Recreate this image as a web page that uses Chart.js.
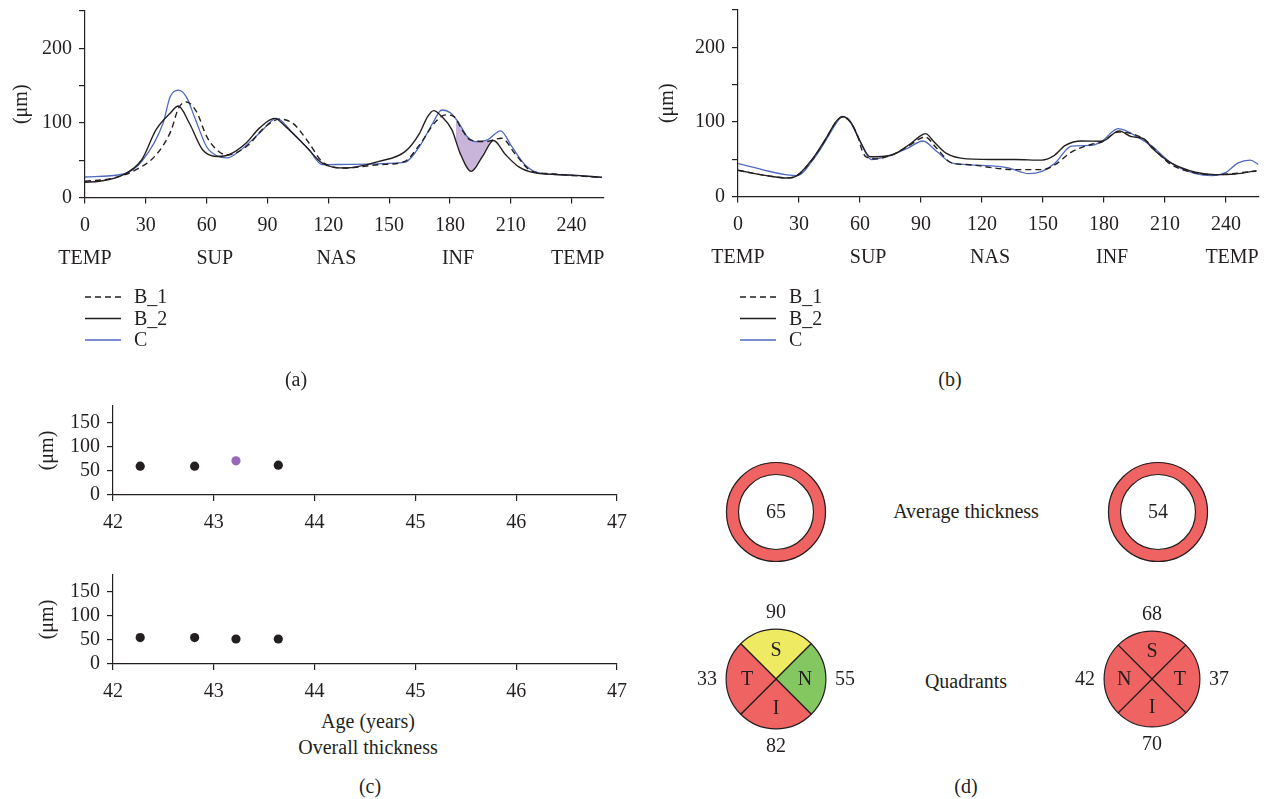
<!DOCTYPE html>
<html>
<head>
<meta charset="utf-8">
<script src="https://cdn.jsdelivr.net/npm/chart.js@4.4.1/dist/chart.umd.min.js"></script>
<style>
  body { margin:0; background:#fff; width:1268px; height:799px; position:relative; overflow:hidden;
         font-family:'Liberation Serif','DejaVu Serif',serif; color:#231f20; }
  canvas { position:absolute; }
  .lbl { position:absolute; font-size:20px; line-height:1; transform:translate(-50%,-50%); white-space:nowrap; }
</style>
</head>
<body>
<canvas id="chartA" width="640" height="360" style="left:0;top:0"></canvas>
<canvas id="chartB" width="628" height="360" style="left:640px;top:0"></canvas>
<canvas id="chartC1" width="660" height="150" style="left:0;top:390px"></canvas>
<canvas id="chartC2" width="660" height="150" style="left:0;top:560px"></canvas>
<canvas id="ring1" width="120" height="120" style="left:716px;top:452px"></canvas>
<canvas id="ring2" width="120" height="120" style="left:1098px;top:452px"></canvas>
<canvas id="quad1" width="200" height="200" style="left:676px;top:579px"></canvas>
<canvas id="quad2" width="200" height="200" style="left:1052px;top:579px"></canvas>

<div class="lbl" style="left:296px;top:379px">(a)</div>
<div class="lbl" style="left:950px;top:379px">(b)</div>
<div class="lbl" style="left:368px;top:721px">Age (years)</div>
<div class="lbl" style="left:368px;top:747px">Overall thickness</div>
<div class="lbl" style="left:370px;top:786px">(c)</div>
<div class="lbl" style="left:966px;top:786px">(d)</div>
<div class="lbl" style="left:966px;top:511px">Average thickness</div>
<div class="lbl" style="left:966px;top:681px">Quadrants</div>

<script>
// sector names under the profile plots
const sectorNames = ['TEMP', 'SUP', 'NAS', 'INF', 'TEMP'];
const sectorPos = [0, 64, 124, 184, 243];

// panel (a) thickness profiles
const aB1x = [0, 14, 25, 35, 42.5, 46, 50, 55, 60, 65, 70, 79.5, 89, 96, 102.5, 110.5, 117, 128.5, 145, 157.5, 165, 173, 178, 182, 186, 190, 197.5, 205.5, 212.5, 220.5, 230, 240, 255];
const aB1y = [21.7, 26, 37, 57, 90, 119, 128, 115, 82, 64, 57, 68, 95, 105, 99.5, 73, 48, 39.5, 44, 48, 70.6, 101.7, 110.7, 108.4, 90.6, 77.3, 75, 79.5, 57.3, 35, 32, 29.5, 27];
const aB2x = [0, 7, 19, 28, 35, 42, 46, 51.5, 58, 65, 71, 79.5, 86, 93.5, 99, 109, 117, 128.5, 145, 158, 165, 169, 172, 176, 181, 185, 190.5, 196, 201.5, 207.5, 214, 222, 240, 255];
const aB2y = [20.4, 21.7, 30.6, 50.6, 90.6, 113, 122.6, 99.5, 64, 55, 57.3, 73, 93, 106, 95, 68.4, 46, 39.5, 48.4, 61.8, 86, 108.4, 116.4, 108.4, 90.6, 59.5, 35, 55, 76.4, 57.3, 41, 33, 30, 27];
const aCx = [0, 19, 28, 38.5, 42, 46, 50, 54, 60, 65, 70, 76, 86, 94.5, 102.5, 110.5, 117, 130, 157.5, 165, 171.5, 176, 180.5, 184.5, 188.5, 192.5, 198.5, 205, 210.5, 217, 224, 240, 255];
const aCy = [27.5, 31.5, 48.4, 99.5, 135, 144, 135, 108, 68, 56, 53, 62, 86, 106, 86, 64, 44, 44.5, 47, 68.4, 99.5, 117.3, 113, 99.5, 81.7, 75, 77.3, 89.3, 68.4, 44, 33, 30, 27];
// shaded gap between C and B_2
const shadeX = [183, 185, 187.5, 190.5, 193.5, 196.5, 200];
const shadeTop = [104, 97, 85, 77.5, 75, 76, 75.5];
const shadeBottom = [78, 59.5, 44, 35, 46, 60, 75.5];

// panel (b) thickness profiles
const bB1x = [0, 14, 24, 29, 37, 43.5, 48.5, 51.5, 55.5, 59, 61, 63, 68, 75, 84, 89.5, 92, 97.5, 105, 112.5, 130, 135, 149.5, 156, 164, 174, 179, 187, 198.5, 213, 225, 234.5, 255];
const bB1y = [35, 28, 25, 28, 51, 78.5, 101, 107, 99, 80, 62, 53, 50.5, 55, 68, 77.5, 80, 65.4, 45, 42.8, 37, 36, 36, 42.8, 59.5, 70, 73, 86.5, 78.9, 42.8, 31.6, 29.3, 34];
const bB2x = [0, 14, 24, 29, 37, 43.5, 48.5, 51.5, 55.5, 60, 65, 75, 84.5, 89.5, 92.3, 96, 102.5, 112.5, 130, 136, 149.5, 155, 161, 169, 179, 187.5, 193.5, 199.5, 203.5, 213, 225, 234.5, 244.5, 255];
const bB2y = [35.2, 28, 24.8, 28, 51.8, 79, 101.4, 107, 99.2, 74.4, 53.2, 55, 70, 81, 84.3, 74.4, 57.7, 50.5, 49.6, 49.6, 48.7, 54, 68.5, 74.4, 74, 88, 80.2, 77.5, 65.4, 45, 32.5, 29.3, 30.2, 34.7];
const bCx = [0, 29, 37, 43.5, 48.5, 51.3, 55, 60, 65.5, 74.5, 83, 91, 97.5, 105, 112.5, 130, 133, 143, 149.5, 156, 164, 174, 179, 187, 197, 203.5, 213, 225, 233, 239.5, 246, 252, 256];
const bCy = [44.2, 28, 49.6, 76.6, 99.2, 107.3, 101.4, 74.4, 49.6, 55, 64, 74.4, 61, 45, 42.8, 39.7, 38.3, 30.7, 33.8, 45, 67.6, 68.5, 74.4, 91, 78.9, 67.6, 45, 30.7, 28, 31.6, 45, 48.7, 42.8];

// panel (c) overall thickness vs age
const ageYears = [42.27, 42.81, 43.22, 43.64];
const thickTop = [60, 60, 71, 62];
const thickBottom = [55, 55, 52, 52];

// panel (d)
const avgThickness = [65, 54];
const quadShare = [1, 1, 1, 1];
const quadNames1 = ['S', 'N', 'I', 'T'];
const quadValues1 = [90, 55, 82, 33];
const quadNames2 = ['S', 'T', 'I', 'N'];
const quadValues2 = [68, 37, 70, 42];

const FONT = "'Liberation Serif', 'DejaVu Serif', serif";
const FS = 20;
const INK = '#231f20';
const BLUE = '#4f68c0';
const RED = '#f06363';
const YELLOW = '#eeeb62';
const GREEN = '#84c760';
const PURPLE = '#c9b5da';
const DOT_PURPLE = '#9568b8';

const pts = (xs, ys) => xs.map((x, i) => ({ x: x, y: ys[i] }));

function xAxis(min, max, step, pad) {
  return {
    type: 'linear', min: min, max: max,
    border: { display: true, color: INK, width: 1.2 },
    grid: { display: true, drawOnChartArea: false, drawTicks: true, tickLength: 6, color: INK, lineWidth: 1.2 },
    ticks: { stepSize: step, includeBounds: false, autoSkip: false, maxRotation: 0, padding: pad,
             color: INK, font: { family: FONT, size: FS } },
    afterFit: s => { s.height = 40; }
  };
}

function yAxis(max, step, every, width, titlePad) {
  return {
    type: 'linear', min: 0, max: max,
    border: { display: true, color: INK, width: 1.2 },
    grid: { display: true, drawOnChartArea: false, drawTicks: true, tickLength: 6, color: INK, lineWidth: 1.2 },
    ticks: { stepSize: step, includeBounds: false, padding: 7, color: INK, font: { family: FONT, size: FS },
             callback: v => (v % every === 0 ? v : '') },
    title: { display: true, text: '(μm)', color: INK, font: { family: FONT, size: FS }, padding: { top: titlePad, bottom: 0 } },
    afterFit: s => { s.width = width; s.paddingTop = 0; s.paddingBottom = 0; }
  };
}

function legendPlugin(x, y, dy) {
  return {
    id: 'legendList',
    afterDraw(chart) {
      const ctx = chart.ctx;
      chart.data.datasets.filter(d => !d.helper).forEach((d, i) => {
        const yy = y + i * dy;
        ctx.save();
        ctx.strokeStyle = d.borderColor;
        ctx.lineWidth = d.borderWidth;
        ctx.setLineDash(d.borderDash || []);
        ctx.beginPath(); ctx.moveTo(x, yy); ctx.lineTo(x + 36, yy); ctx.stroke();
        ctx.setLineDash([]);
        ctx.fillStyle = INK;
        ctx.font = FS + 'px ' + FONT;
        ctx.textBaseline = 'middle';
        ctx.fillText(d.label, x + 49, yy + 1);
        ctx.restore();
      });
    }
  };
}

function sectorPlugin(offsetY) {
  return {
    id: 'sectors',
    afterDraw(chart) {
      const ctx = chart.ctx, xs = chart.scales.x;
      ctx.save();
      ctx.font = FS + 'px ' + FONT;
      ctx.fillStyle = INK;
      ctx.textAlign = 'center';
      ctx.textBaseline = 'middle';
      sectorNames.forEach((s, i) => ctx.fillText(s, xs.getPixelForValue(sectorPos[i]), chart.chartArea.bottom + offsetY));
      ctx.restore();
    }
  };
}

function profileChart(id, set, pad, yWidth, titlePad, legendX, shade) {
  const datasets = [
    { label: 'B_1', data: pts(set[0], set[1]), borderColor: INK, borderWidth: 1.4, borderDash: [6, 4] },
    { label: 'B_2', data: pts(set[2], set[3]), borderColor: INK, borderWidth: 1.4 },
    { label: 'C', data: pts(set[4], set[5]), borderColor: BLUE, borderWidth: 1.3 }
  ];
  if (shade) {
    datasets.push({ label: '_top', helper: true, data: pts(shadeX, shadeTop), borderWidth: 0, borderColor: 'transparent',
                    backgroundColor: PURPLE, fill: '+1' });
    datasets.push({ label: '_bottom', helper: true, data: pts(shadeX, shadeBottom), borderWidth: 0, borderColor: 'transparent', fill: false });
  }
  return new Chart(document.getElementById(id), {
    type: 'line',
    data: { datasets: datasets },
    options: {
      responsive: false, animation: false,
      layout: { padding: pad },
      elements: { point: { radius: 0 }, line: { cubicInterpolationMode: 'monotone' } },
      plugins: { legend: { display: false }, tooltip: { enabled: false } },
      scales: { x: xAxis(0, 256, 30, 10), y: yAxis(250, 50, 100, yWidth, titlePad) }
    },
    plugins: [sectorPlugin(61), legendPlugin(legendX, 297, 21.5)]
  });
}

profileChart('chartA', [aB1x, aB1y, aB2x, aB2y, aCx, aCy], { left: 0, top: 11, right: 36, bottom: 122.5 }, 85, 10, 85, true);
profileChart('chartB', [bB1x, bB1y, bB2x, bB2y, bCx, bCy], { left: 0, top: 10, right: 9.5, bottom: 123.5 }, 98, 16, 100, false);

function ageChart(id, ys, colors, padTop) {
  return new Chart(document.getElementById(id), {
    type: 'scatter',
    data: { datasets: [{ data: pts(ageYears, ys), pointBackgroundColor: colors, pointBorderWidth: 0, pointRadius: 4.6 }] },
    options: {
      responsive: false, animation: false,
      layout: { padding: { left: 0, top: padTop, right: 43, bottom: 150 - padTop - 89 - 40 } },
      plugins: { legend: { display: false }, tooltip: { enabled: false } },
      scales: { x: xAxis(42, 47, 1, 10), y: yAxis(185, 25, 50, 113, 36) }
    }
  });
}
ageChart('chartC1', thickTop, [INK, INK, DOT_PURPLE, INK], 16);
ageChart('chartC2', thickBottom, [INK, INK, INK, INK], 15);

function ringChart(id, value) {
  return new Chart(document.getElementById(id), {
    type: 'doughnut',
    data: { datasets: [{ data: [1], backgroundColor: RED, borderWidth: 0 }] },
    options: {
      responsive: false, animation: false, cutout: '75%',
      layout: { padding: 10 },
      plugins: { legend: { display: false }, tooltip: { enabled: false } }
    },
    plugins: [{
      id: 'ringText',
      afterDatasetsDraw(chart) {
        const arc = chart.getDatasetMeta(0).data[0];
        const ctx = chart.ctx;
        ctx.save();
        ctx.strokeStyle = INK;
        ctx.lineWidth = 1.2;
        [arc.outerRadius - 0.5, arc.innerRadius].forEach(r => {
          ctx.beginPath(); ctx.arc(arc.x, arc.y, r, 0, Math.PI * 2); ctx.stroke();
        });
        ctx.fillStyle = INK;
        ctx.font = FS + 'px ' + FONT;
        ctx.textAlign = 'center';
        ctx.textBaseline = 'middle';
        ctx.fillText(String(value), arc.x, arc.y + 1);
        ctx.restore();
      }
    }]
  });
}
ringChart('ring1', avgThickness[0]);
ringChart('ring2', avgThickness[1]);

function quadChart(id, names, values, colors, pad) {
  return new Chart(document.getElementById(id), {
    type: 'pie',
    data: { labels: names, datasets: [{ data: quadShare, backgroundColor: colors, borderColor: INK, borderWidth: 1.2 }] },
    options: {
      responsive: false, animation: false, rotation: -45,
      layout: { padding: pad },
      plugins: { legend: { display: false }, tooltip: { enabled: false } }
    },
    plugins: [{
      id: 'quadText',
      afterDatasetsDraw(chart) {
        const ctx = chart.ctx;
        ctx.save();
        ctx.fillStyle = INK;
        ctx.font = FS + 'px ' + FONT;
        ctx.textAlign = 'center';
        ctx.textBaseline = 'middle';
        chart.getDatasetMeta(0).data.forEach((arc, i) => {
          const a = (arc.startAngle + arc.endAngle) / 2;
          const r = arc.outerRadius;
          ctx.fillText(names[i], arc.x + Math.cos(a) * r * 0.58, arc.y + Math.sin(a) * r * 0.58 + 1);
          ctx.fillText(String(values[i]), arc.x + Math.cos(a) * (r + 19), arc.y + Math.sin(a) * (r + 17) + 1);
        });
        ctx.restore();
      }
    }]
  });
}
quadChart('quad1', quadNames1, quadValues1, [YELLOW, GREEN, RED, RED], 49.5);
quadChart('quad2', quadNames2, quadValues2, [RED, RED, RED, RED], 51.5);
</script>
</body>
</html>
